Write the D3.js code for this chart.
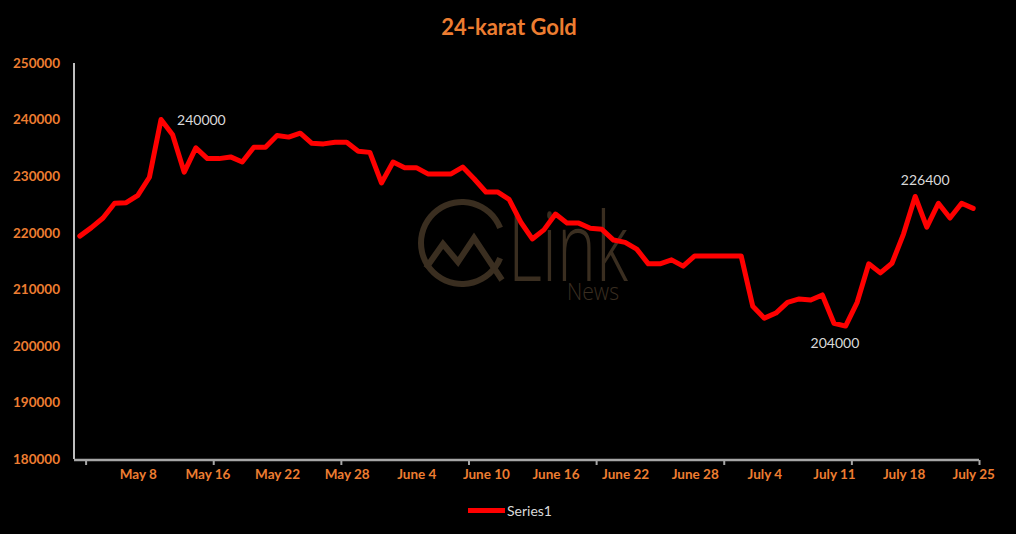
<!DOCTYPE html>
<html>
<head>
<meta charset="utf-8">
<script src="https://cdn.jsdelivr.net/npm/d3@7"></script>
<style>
  html, body { margin: 0; padding: 0; background: #000; }
  svg { display: block; }
</style>
</head>
<body>
<svg id="chart" width="1016" height="534"></svg>
<script>
// ---- data ----
const title = "24-karat Gold";
const seriesName = "Series1";
const prices = [
  219400, 220900, 222600, 225200, 225300, 226600, 229800, 240000, 237300, 230700,
  235000, 233100, 233100, 233400, 232500, 235100, 235100, 237200, 236900, 237600,
  235800, 235700, 236000, 236000, 234400, 234200, 228800, 232500, 231500, 231500,
  230400, 230400, 230400, 231600, 229500, 227200, 227200, 225900, 221900, 218900,
  220500, 223300, 221700, 221700, 220800, 220600, 218700, 218300, 217100, 214500,
  214500, 215200, 214100, 215900, 215900, 215900, 215900, 215900, 207000, 204900,
  205800, 207700, 208300, 208100, 209000, 204000, 203500, 207700, 214500, 212900,
  214600, 219800, 226400, 221000, 225200, 222600, 225200, 224300
];
const xLabels = ["May 8", "May 16", "May 22", "May 28", "June 4", "June 10", "June 16",
  "June 22", "June 28", "July 4", "July 11", "July 18", "July 25"];
const xLabelIndex = [5, 11, 17, 23, 29, 35, 41, 47, 53, 59, 65, 71, 77];
const xTickBoundaries = [1, 12, 23, 34, 45, 56, 67, 78];
const yTicks = [180000, 190000, 200000, 210000, 220000, 230000, 240000, 250000];
const labelledPoints = [7, 72, 65];

(function () {
// ---- layout ----
const svg = d3.select("#chart");
const W = 1016, H = 534;
const pL = 74, pR = 979, pT = 63, pB = 459;
const orange = "#ED7D31";
const font = "Lato, 'Open Sans', sans-serif";

svg.append("rect").attr("width", W).attr("height", H).attr("fill", "#000");

const x = d3.scaleLinear().domain([0, prices.length]).range([pL, pR]);
const y = d3.scaleLinear().domain([180000, 250000]).range([pB, pT]);

// watermark
const wmColor = "#3a2e20";
const arc = d3.arc().innerRadius(38).outerRadius(44).startAngle(Math.PI * 0.62).endAngle(Math.PI * 2.38);
svg.append("path").attr("d", arc()).attr("transform", "translate(462,243)").attr("fill", wmColor);
svg.append("path").attr("d", "M426,268 L443,244 L458,262 L474,238 L502,280")
  .attr("fill", "none").attr("stroke", wmColor).attr("stroke-width", 6);
svg.append("text").attr("x", 508).attr("y", 281).text("Link")
  .attr("font-family", "'Open Sans', sans-serif").attr("font-weight", 300)
  .attr("font-size", 96).attr("fill", wmColor)
  .attr("textLength", 120).attr("lengthAdjust", "spacingAndGlyphs");
svg.append("text").attr("x", 567).attr("y", 300).text("News")
  .attr("font-family", "'Open Sans', sans-serif").attr("font-weight", 300)
  .attr("font-size", 24).attr("fill", wmColor)
  .attr("textLength", 52).attr("lengthAdjust", "spacingAndGlyphs");

// title
svg.append("text").attr("x", 509).attr("y", 35).attr("text-anchor", "middle")
  .attr("font-family", font).attr("font-weight", 700).attr("font-size", 22)
  .attr("fill", orange).text(title);

// y axis
const yAxis = svg.append("g").attr("transform", `translate(${pL},0)`)
  .call(d3.axisLeft(y).tickValues(yTicks).tickSize(0).tickPadding(14).tickFormat(d3.format("d")));
yAxis.select(".domain").attr("stroke", "#fff").attr("stroke-width", 1.5)
  .attr("d", `M0,${pT}V${pB}`);
yAxis.selectAll("text").attr("fill", orange).attr("font-family", font)
  .attr("font-weight", 700).attr("font-size", 13.5);

// x axis ticks
const xAxis = svg.append("g").attr("transform", `translate(0,${pB + 1})`)
  .call(d3.axisBottom(x).tickValues(xTickBoundaries).tickSize(5).tickFormat(""));
xAxis.select(".domain").attr("stroke", "#A6A6A6").attr("stroke-width", 2.5)
  .attr("d", `M${pL},0H${pR}`);
xAxis.selectAll(".tick line").attr("stroke", "#A6A6A6").attr("stroke-width", 2);

// x labels
const xLab = svg.append("g").attr("transform", `translate(0,${pB + 1})`)
  .call(d3.axisBottom(x).tickValues(xLabelIndex.map(i => i + 0.5)).tickSize(0).tickPadding(9)
    .tickFormat((d, i) => xLabels[i]));
xLab.select(".domain").remove();
xLab.selectAll("text").attr("fill", orange).attr("font-family", font)
  .attr("font-weight", 700).attr("font-size", 13.5);

// line
const line = d3.line().x((d, i) => x(i + 0.5)).y(d => y(d));
svg.append("path").datum(prices).attr("d", line)
  .attr("fill", "none").attr("stroke", "#FF0000").attr("stroke-width", 5)
  .attr("stroke-linejoin", "round").attr("stroke-linecap", "round");

// data labels
const labelOffsets = { 7: [16, 5, "start"], 72: [10, -12, "middle"], 65: [1, 25, "middle"] };
labelledPoints.forEach(i => {
  const [dx, dy, anchor] = labelOffsets[i];
  svg.append("text").attr("x", x(i + 0.5) + dx).attr("y", y(prices[i]) + dy)
    .attr("text-anchor", anchor).attr("font-family", font).attr("font-size", 14)
    .attr("fill", "#D9D9D9").text(d3.format("d")(prices[i]));
});

// legend
svg.append("line").attr("x1", 468).attr("x2", 505).attr("y1", 510.5).attr("y2", 510.5)
  .attr("stroke", "#FF0000").attr("stroke-width", 5);
svg.append("text").attr("x", 507).attr("y", 515.5).attr("font-family", font)
  .attr("font-size", 14).attr("fill", "#D9D9D9").text(seriesName);
})();
</script>
</body>
</html>
